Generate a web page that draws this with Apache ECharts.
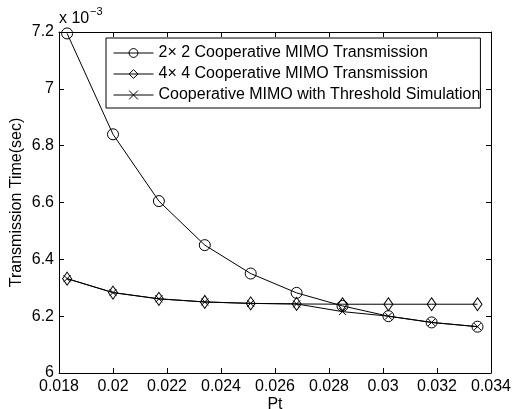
<!DOCTYPE html>
<html><head><meta charset="utf-8">
<script src="https://cdn.jsdelivr.net/npm/echarts@6/dist/echarts.min.js"></script>
<style>html,body{margin:0;padding:0;background:#fff}#c{width:513px;height:409px}</style>
</head><body><div id="c"></div>
<script>
// Data (y values in units of 1e-3 sec)
const pt = [0.0183, 0.0200, 0.0217, 0.0234, 0.0251, 0.0268, 0.0285, 0.0302, 0.0318, 0.0335];
const coop2x2 = [7.195, 6.840, 6.605, 6.450, 6.350, 6.282, 6.236, 6.200, 6.178, 6.163];
const coop4x4 = [6.332, 6.283, 6.261, 6.250, 6.245, 6.243, 6.242, 6.242, 6.242, 6.242];
const coopThreshold = [6.332, 6.283, 6.261, 6.250, 6.245, 6.243, 6.216, 6.200, 6.178, 6.163];
const seriesNames = ['2\u00d7 2 Cooperative MIMO Transmission', '4\u00d7 4 Cooperative MIMO Transmission', 'Cooperative MIMO with Threshold Simulation'];
const xTicks = {min: 0.018, max: 0.034, step: 0.002};
const yTicks = {min: 6, max: 7.2, step: 0.2};

const FONT = 'Liberation Sans, Arial, Helvetica, sans-serif';
const zip = (xs, ys) => xs.map((x, i) => [x, ys[i]]);
const chart = echarts.init(document.getElementById('c'), null, {renderer: 'canvas'});
const symStyle = {color: 'transparent', borderColor: '#000', borderWidth: 1};
const mkSeries = (name, data, symbol, size) => ({
  name, type: 'line', data, symbol, symbolSize: size, showAllSymbol: true,
  lineStyle: {color: '#000', width: 1}, itemStyle: symStyle,
  emphasis: {disabled: true}, animation: false, z: 3
});
const axisCommon = {
  axisLine: {show: true, onZero: false, lineStyle: {color: '#000', width: 1}},
  axisTick: {show: true, inside: true, length: 5, lineStyle: {color: '#000'}},
  splitLine: {show: false},
  nameMoveOverlap: false
};
chart.setOption({
  animation: false,
  grid: {left: 59, top: 32, right: 22, bottom: 36, containLabel: false, outerBoundsMode: 'none'},
  legend: {
    data: seriesNames, orient: 'vertical', left: 106, top: 38,
    itemWidth: 40, itemHeight: 11, itemGap: 5,
    padding: [7, 0, 5, 7],
    backgroundColor: '#fff', borderColor: '#000', borderWidth: 1,
    lineStyle: {width: 1, color: '#000'},
    itemStyle: {borderWidth: 1, borderColor: '#000', color: 'transparent'},
    textStyle: {fontFamily: FONT, fontSize: 16, color: '#000'}
  },
  xAxis: [
    Object.assign({type: 'value', min: xTicks.min, max: xTicks.max, interval: xTicks.step,
      name: 'Pt', nameLocation: 'middle', nameGap: 24,
      nameTextStyle: {fontFamily: FONT, fontSize: 16, color: '#000'},
      axisLabel: {fontFamily: FONT, fontSize: 16, color: '#000', margin: 6,
        formatter: v => String(parseFloat(v.toFixed(3)))}}, axisCommon),
    Object.assign({type: 'value', position: 'top', min: xTicks.min, max: xTicks.max, interval: xTicks.step,
      axisLabel: {show: false}}, axisCommon)
  ],
  yAxis: [
    Object.assign({type: 'value', min: yTicks.min, max: yTicks.max, interval: yTicks.step,
      name: 'Transmission Time(sec)', nameLocation: 'middle', nameGap: 34, nameRotate: 90,
      nameTextStyle: {fontFamily: FONT, fontSize: 16, color: '#000'},
      axisLabel: {fontFamily: FONT, fontSize: 16, color: '#000', margin: 5,
        formatter: v => String(parseFloat(v.toFixed(1)))}}, axisCommon),
    Object.assign({type: 'value', position: 'right', min: yTicks.min, max: yTicks.max, interval: yTicks.step,
      axisLabel: {show: false}}, axisCommon)
  ],
  graphic: [
    {type: 'text', x: 59, y: 18.5,
      style: {text: 'x 10', fontFamily: FONT, fontSize: 16, fill: '#000', verticalAlign: 'middle', align: 'left'}},
    {type: 'text', x: 90, y: 11.5,
      style: {text: '\u22123', fontFamily: FONT, fontSize: 11, fill: '#000', verticalAlign: 'middle', align: 'left'}}
  ],
  series: [
    mkSeries(seriesNames[0], zip(pt, coop2x2), 'circle', 11),
    mkSeries(seriesNames[1], zip(pt, coop4x4), 'diamond', [9, 13]),
    mkSeries(seriesNames[2], zip(pt, coopThreshold), 'path://M0,0L10,10M10,0L0,10', 7)
  ]
});
</script></body></html>
